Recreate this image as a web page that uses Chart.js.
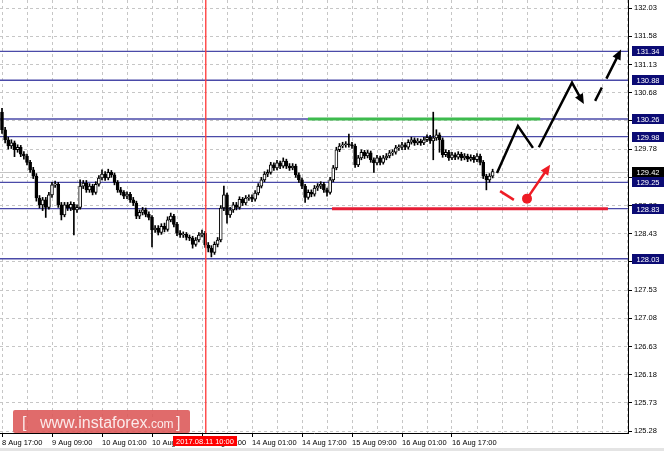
<!DOCTYPE html>
<html>
<head>
<meta charset="utf-8">
<script src="https://cdn.jsdelivr.net/npm/chart.js@4.4.0/dist/chart.umd.min.js"></script>
<style>
html,body{margin:0;padding:0;background:#fff;}
#wrap{position:relative;width:664px;height:451px;}
</style>
</head>
<body>
<div id="wrap"><canvas id="myChart"></canvas></div>
<script>
// H1 candles, bar 0 = 8 Aug 17:00
var opens = [
130.37,130.09,129.93,129.83,129.88,129.77,129.81,129.70,129.67,129.57,
129.45,129.35,129.00,128.89,128.97,128.85,129.05,129.21,129.22,128.89,
128.73,128.89,128.84,128.90,128.81,128.85,129.19,129.24,129.13,129.19,
129.09,129.22,129.32,129.38,129.32,129.41,129.37,129.25,129.13,129.09,
129.03,129.06,128.97,128.92,128.71,128.77,128.81,128.74,128.69,128.49,
128.52,128.45,128.55,128.50,128.65,128.71,128.58,128.44,128.41,128.42,
128.37,128.36,128.26,128.33,128.41,128.44,128.25,128.20,128.13,128.26,
128.33,128.84,129.05,128.73,128.81,128.89,128.85,128.98,128.92,129.00,
129.01,128.98,129.08,129.19,129.29,129.38,129.41,129.53,129.48,129.56,
129.51,129.59,129.51,129.48,129.51,129.37,129.29,129.19,129.01,129.09,
129.06,129.16,129.19,129.22,129.13,129.09,129.29,129.48,129.77,129.83,
129.85,129.86,129.85,129.83,129.53,129.64,129.73,129.67,129.72,129.61,
129.56,129.64,129.57,129.64,129.67,129.72,129.73,129.80,129.81,129.85,
129.81,129.89,129.93,129.88,129.91,129.88,129.93,129.97,129.91,129.96,
130.01,129.93,129.69,129.73,129.64,129.69,129.65,129.70,129.64,129.67,
129.62,129.65,129.61,129.67,129.57,129.35,129.29,129.35];
var highs = [
130.43,130.13,129.97,129.93,129.91,129.85,129.84,129.74,129.70,129.60,
129.49,129.39,129.04,129.01,129.01,129.09,129.25,129.27,129.25,128.93,
128.93,128.93,128.94,128.93,128.89,129.29,129.28,129.28,129.23,129.22,
129.26,129.36,129.45,129.42,129.46,129.44,129.40,129.28,129.17,129.12,
129.10,129.09,129.01,128.95,128.81,128.85,128.84,128.78,128.72,128.56,
128.56,128.59,128.60,128.70,128.76,128.74,128.61,128.48,128.46,128.45,
128.41,128.39,128.37,128.45,128.49,128.47,128.29,128.24,128.30,128.37,
128.88,129.19,129.08,128.85,128.93,128.93,129.02,129.01,129.04,129.05,
129.05,129.12,129.23,129.33,129.42,129.45,129.57,129.56,129.60,129.59,
129.64,129.62,129.55,129.55,129.54,129.40,129.32,129.22,129.13,129.13,
129.20,129.23,129.26,129.25,129.16,129.33,129.52,129.81,129.87,129.89,
129.90,130.02,129.89,129.86,129.68,129.77,129.76,129.76,129.75,129.64,
129.68,129.67,129.68,129.71,129.76,129.77,129.84,129.85,129.89,129.88,
129.93,129.97,129.96,129.95,129.94,129.97,130.01,130.00,130.37,130.09,
130.04,129.96,129.77,129.76,129.73,129.72,129.74,129.73,129.71,129.70,
129.69,129.68,129.71,129.70,129.60,129.38,129.39,129.46];
var lows = [
130.03,129.88,129.78,129.79,129.66,129.73,129.66,129.62,129.53,129.41,
129.31,128.95,128.84,128.80,128.69,128.82,129.01,129.17,128.85,128.65,
128.70,128.80,128.80,128.41,128.77,128.82,129.15,129.09,129.09,129.05,
129.06,129.19,129.29,129.28,129.29,129.33,129.21,129.09,129.05,128.99,
128.99,128.93,128.88,128.67,128.67,128.73,128.70,128.65,128.22,128.45,
128.41,128.42,128.46,128.47,128.62,128.54,128.40,128.37,128.37,128.33,
128.32,128.20,128.23,128.30,128.38,128.21,128.14,128.06,128.10,128.22,
128.30,128.80,128.60,128.69,128.77,128.81,128.82,128.88,128.89,128.96,
128.94,128.95,129.05,129.16,129.26,129.34,129.38,129.44,129.45,129.47,
129.48,129.47,129.44,129.45,129.33,129.25,129.15,128.93,128.98,129.02,
129.03,129.12,129.15,129.09,129.03,129.06,129.26,129.45,129.74,129.80,
129.81,129.81,129.79,129.49,129.50,129.61,129.63,129.64,129.57,129.41,
129.53,129.53,129.54,129.61,129.64,129.68,129.70,129.76,129.77,129.77,
129.78,129.86,129.84,129.85,129.84,129.85,129.90,129.87,129.61,129.92,
129.73,129.65,129.66,129.60,129.61,129.61,129.62,129.60,129.61,129.58,
129.59,129.57,129.58,129.53,129.31,129.13,129.25,129.32];
var closes = [
130.09,129.93,129.83,129.88,129.77,129.81,129.70,129.67,129.57,129.45,
129.35,129.00,128.89,128.97,128.85,129.05,129.21,129.22,128.89,128.73,
128.89,128.84,128.90,128.81,128.85,129.19,129.24,129.13,129.19,129.09,
129.22,129.32,129.38,129.32,129.41,129.37,129.25,129.13,129.09,129.03,
129.06,128.97,128.92,128.71,128.77,128.81,128.74,128.69,128.49,128.52,
128.45,128.55,128.50,128.65,128.71,128.58,128.44,128.41,128.42,128.37,
128.36,128.26,128.33,128.41,128.44,128.25,128.20,128.13,128.26,128.33,
128.84,129.05,128.73,128.81,128.89,128.85,128.98,128.92,129.00,129.01,
128.98,129.08,129.19,129.29,129.38,129.41,129.53,129.48,129.56,129.51,
129.59,129.51,129.48,129.51,129.37,129.29,129.19,129.01,129.09,129.06,
129.16,129.19,129.22,129.13,129.09,129.29,129.48,129.77,129.83,129.85,
129.86,129.85,129.83,129.53,129.64,129.73,129.67,129.72,129.61,129.56,
129.64,129.57,129.64,129.67,129.72,129.73,129.80,129.81,129.85,129.81,
129.89,129.93,129.88,129.91,129.88,129.93,129.97,129.91,129.96,130.01,
129.93,129.69,129.73,129.64,129.69,129.65,129.70,129.64,129.67,129.62,
129.65,129.61,129.67,129.57,129.35,129.29,129.35,129.42];

// time labels every 16 bars
var timeLabels = ['8 Aug 17:00','9 Aug 09:00','10 Aug 01:00','10 Aug 17:00','11 Aug 09:00',
  '14 Aug 01:00','14 Aug 17:00','15 Aug 09:00','16 Aug 01:00','16 Aug 17:00'];
var priceTicks = [125.28,125.73,126.18,126.63,127.08,127.53,127.98,128.43,128.88,
  129.33,129.78,130.23,130.68,131.13,131.58,132.03];

// drawn levels
var levels = [131.34,130.88,130.26,129.98,129.25,128.83,128.03];
var bidPrice = 129.42;
var cursorBar = 65;
var cursorLabel = '2017.08.11 10:00';
var greenBars = [97.9,172.2], greenPrice = 130.26;
var redBars = [105.6,193.9], redPrice = 128.83;

// forecast arrows (bar index, price)
var zigIdx = [158.4,165.1,169.9], zigPrice = [129.40,130.15,129.80];
var waveIdx = [171.8,182.4,186.2], wavePrice = [129.81,130.84,130.50];
var breakIdx = [189.8,198.1], breakPrice = [130.55,131.37];
var dipIdx = [159.4,163.8], dipPrice = [129.11,128.97];
var bounceIdx = [168.0,175.4], bouncePrice = [128.99,129.53];

var FONT = 'Liberation Sans, Arial, sans-serif';

var bodies = [], wicks = [], bodyColors = [];
opens.forEach(function (o, i) {
  bodies.push({x: i, y: [o, closes[i]]});
  wicks.push({x: i, y: [lows[i], highs[i]]});
  bodyColors.push(closes[i] >= o ? '#ffffff' : '#000000');
});

function head(ctx, x1, y1, x2, y2, size) {
  var a = Math.atan2(y2 - y1, x2 - x1);
  ctx.beginPath();
  ctx.moveTo(x2, y2);
  ctx.lineTo(x2 - size * Math.cos(a - 0.42), y2 - size * Math.sin(a - 0.42));
  ctx.lineTo(x2 - size * Math.cos(a + 0.42), y2 - size * Math.sin(a + 0.42));
  ctx.closePath();
  ctx.fill();
}

function poly(ctx, sx, sy, idx, pr, withHead, dash) {
  ctx.setLineDash(dash || []);
  ctx.beginPath();
  var n = idx.length;
  for (var k = 0; k < n; k++) {
    var px = sx.getPixelForValue(idx[k]), py = sy.getPixelForValue(pr[k]);
    if (k === n - 1 && withHead) {
      var qx = sx.getPixelForValue(idx[k - 1]), qy = sy.getPixelForValue(pr[k - 1]);
      var a = Math.atan2(py - qy, px - qx);
      px -= Math.cos(a) * 6; py -= Math.sin(a) * 6;
    }
    if (k === 0) ctx.moveTo(px, py); else ctx.lineTo(px, py);
  }
  ctx.stroke();
  ctx.setLineDash([]);
  if (withHead) {
    head(ctx, sx.getPixelForValue(idx[n - 2]), sy.getPixelForValue(pr[n - 2]),
      sx.getPixelForValue(idx[n - 1]), sy.getPixelForValue(pr[n - 1]), 11);
  }
}

function boxLabel(ctx, x, y, text, bg) {
  ctx.fillStyle = bg;
  ctx.fillRect(x, Math.round(y) - 5, 32, 10);
  ctx.fillStyle = '#ffffff';
  ctx.font = '7.5px ' + FONT;
  ctx.textAlign = 'center';
  ctx.textBaseline = 'middle';
  ctx.fillText(text, x + 16, Math.round(y) + 0.5);
}

var overlay = {
  id: 'overlay',
  beforeDraw: function (chart) {
    var ctx = chart.ctx;
    ctx.save();
    ctx.fillStyle = '#ffffff';
    ctx.fillRect(0, 0, chart.width, chart.height);
    ctx.fillStyle = '#e4e4e4';
    ctx.fillRect(0, chart.height - 3, chart.width, 3);
    ctx.restore();
  },
  beforeDatasetsDraw: function (chart) {
    var ctx = chart.ctx, a = chart.chartArea, sx = chart.scales.x, sy = chart.scales.y;
    ctx.save();
    ctx.beginPath();
    ctx.rect(a.left, a.top, a.right - a.left, a.bottom - a.top);
    ctx.clip();
    var by = Math.round(sy.getPixelForValue(bidPrice)) + 0.5;
    ctx.strokeStyle = '#c4c4c4';
    ctx.lineWidth = 1;
    ctx.beginPath(); ctx.moveTo(a.left, by); ctx.lineTo(a.right, by); ctx.stroke();
    ctx.strokeStyle = '#4a4aa8';
    ctx.lineWidth = 1.4;
    levels.forEach(function (v) {
      var y = sy.getPixelForValue(v);
      ctx.beginPath(); ctx.moveTo(a.left, y); ctx.lineTo(a.right, y); ctx.stroke();
    });
    ctx.lineWidth = 3;
    ctx.strokeStyle = '#3dbb4e';
    var gy = sy.getPixelForValue(greenPrice);
    ctx.beginPath(); ctx.moveTo(sx.getPixelForValue(greenBars[0]), gy);
    ctx.lineTo(sx.getPixelForValue(greenBars[1]), gy); ctx.stroke();
    ctx.strokeStyle = '#e61e36';
    var ry = sy.getPixelForValue(redPrice);
    ctx.beginPath(); ctx.moveTo(sx.getPixelForValue(redBars[0]), ry);
    ctx.lineTo(sx.getPixelForValue(redBars[1]), ry); ctx.stroke();
    ctx.restore();
  },
  afterDraw: function (chart) {
    var ctx = chart.ctx, a = chart.chartArea, sx = chart.scales.x, sy = chart.scales.y;
    ctx.save();
    // time cursor (vertical red line)
    var cx = Math.round(sx.getPixelForValue(cursorBar));
    ctx.fillStyle = 'rgba(255,60,60,0.9)';
    ctx.fillRect(cx, a.top, 1.5, a.bottom - a.top);
    ctx.lineCap = 'butt';
    // black forecast
    ctx.strokeStyle = '#000000';
    ctx.fillStyle = '#000000';
    ctx.lineWidth = 2.5;
    poly(ctx, sx, sy, zigIdx, zigPrice, false);
    poly(ctx, sx, sy, waveIdx, wavePrice, true);
    poly(ctx, sx, sy, breakIdx, breakPrice, true, [15, 10, 200]);
    // red forecast
    ctx.strokeStyle = '#ee1c25';
    ctx.fillStyle = '#ee1c25';
    poly(ctx, sx, sy, dipIdx, dipPrice, false);
    poly(ctx, sx, sy, bounceIdx, bouncePrice, true);
    ctx.beginPath();
    ctx.arc(sx.getPixelForValue(bounceIdx[0]), sy.getPixelForValue(bouncePrice[0]), 5, 0, Math.PI * 2);
    ctx.fill();
    // price boxes on the axis
    levels.forEach(function (v) {
      boxLabel(ctx, a.right + 4, sy.getPixelForValue(v), v.toFixed(2), '#0b0b74');
    });
    boxLabel(ctx, a.right + 4, sy.getPixelForValue(bidPrice), bidPrice.toFixed(2), '#000000');
    // time cursor label
    ctx.fillStyle = '#ff0000';
    ctx.fillRect(cx - 32, a.bottom + 3, 64, 10);
    ctx.fillStyle = '#ffffff';
    ctx.font = '7.5px ' + FONT;
    ctx.textAlign = 'center';
    ctx.textBaseline = 'middle';
    ctx.fillText(cursorLabel, cx, a.bottom + 8.5);
    // watermark
    ctx.fillStyle = 'rgba(220,86,86,0.88)';
    ctx.beginPath();
    ctx.roundRect(13, 410, 177, 23, 2);
    ctx.fill();
    ctx.fillStyle = '#fbeaea';
    ctx.textBaseline = 'alphabetic';
    ctx.textAlign = 'left';
    ctx.font = '16px ' + FONT;
    ctx.fillText('[', 22, 428);
    ctx.fillText('www.instaforex', 40, 428);
    var w = ctx.measureText('www.instaforex').width;
    ctx.font = '12px ' + FONT;
    ctx.fillText('.com', 40 + w, 428);
    ctx.font = '16px ' + FONT;
    ctx.fillText(']', 176, 428);
    ctx.restore();
  }
};

var config = {
  type: 'bar',
  data: {
    datasets: [{
      label: 'wick',
      data: wicks,
      backgroundColor: '#000000',
      barThickness: 1,
      grouped: false,
      order: 2
    }, {
      label: 'body',
      data: bodies,
      backgroundColor: bodyColors,
      borderColor: '#000000',
      borderWidth: 1,
      borderSkipped: false,
      barThickness: 3,
      minBarLength: 1,
      grouped: false,
      order: 1
    }]
  },
  options: {
    responsive: true,
    maintainAspectRatio: false,
    animation: false,
    layout: {padding: 0},
    plugins: {legend: {display: false}, tooltip: {enabled: false}},
    scales: {
      x: {
        type: 'linear',
        offset: false,
        min: -0.64,
        max: 200.32,
        afterBuildTicks: function (s) {
          var t = [];
          for (var v = 0; v <= 200; v += 8) t.push({value: v});
          s.ticks = t;
        },
        afterFit: function (s) { s.height = 18; s.paddingLeft = 0; s.paddingRight = 0; },
        grid: {
          offset: false,
          color: '#c6c6c6',
          lineWidth: 1,
          tickLength: 4,
          tickColor: function (c) {
            return c.tick && c.tick.value % 16 === 0 && c.tick.value / 16 < timeLabels.length ? '#000' : 'rgba(0,0,0,0)';
          }
        },
        border: {color: '#000000', width: 1, dash: [3, 3]},
        ticks: {
          align: 'start',
          maxRotation: 0,
          autoSkip: false,
          padding: 1,
          color: '#000000',
          font: {family: FONT, size: 7.5},
          callback: function (v) {
            return v % 16 === 0 && v / 16 < timeLabels.length ? timeLabels[v / 16] : '';
          }
        }
      },
      y: {
        type: 'linear',
        position: 'right',
        min: 125.25,
        max: 132.16,
        afterBuildTicks: function (s) {
          s.ticks = priceTicks.map(function (v) { return {value: v}; });
        },
        afterFit: function (s) { s.width = 36; s.paddingTop = 0; s.paddingBottom = 0; },
        grid: {color: '#c6c6c6', lineWidth: 1, tickLength: 4, tickColor: '#000000'},
        border: {color: '#000000', width: 1, dash: [3, 3]},
        ticks: {
          padding: 2,
          color: '#000000',
          font: {family: FONT, size: 7.5},
          callback: function (v) { return Number(v).toFixed(2); }
        }
      }
    }
  },
  plugins: [overlay]
};

var myChart = new Chart(document.getElementById('myChart'), config);
</script>
</body>
</html>
